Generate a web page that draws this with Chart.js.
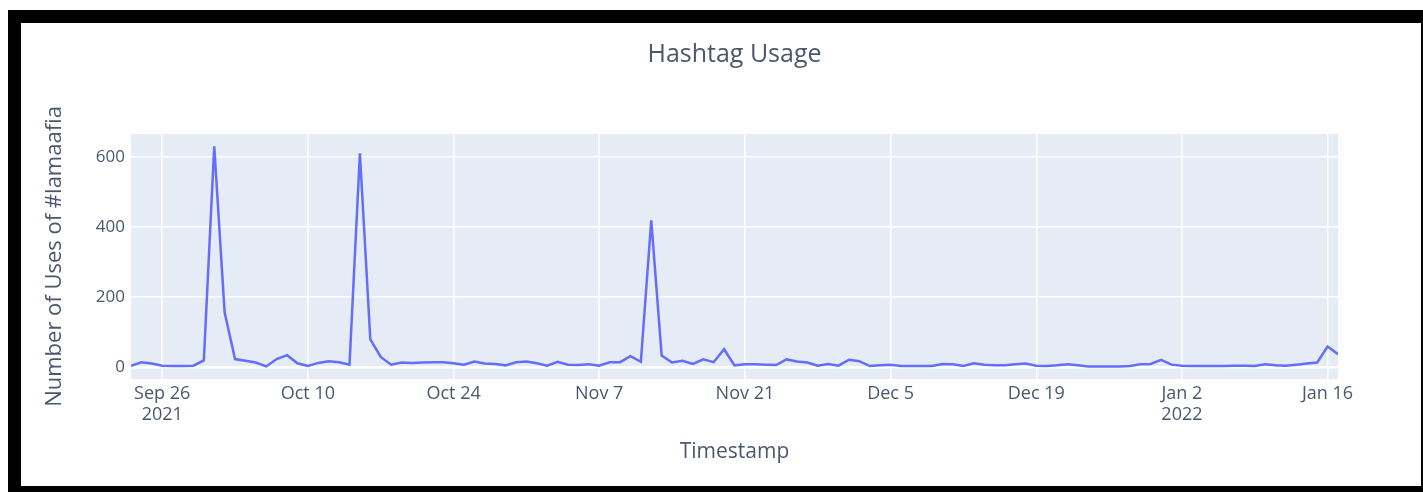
<!DOCTYPE html>
<html>
<head>
<meta charset="utf-8">
<script src="https://cdn.jsdelivr.net/npm/chart.js@4.4.1/dist/chart.umd.min.js"></script>
<style>
  html, body { margin: 0; padding: 0; background: #ffffff; width: 1423px; height: 492px; overflow: hidden; }
  #c { position: absolute; left: 0; top: 0; }
  #frame {
    position: absolute; left: 8px; top: 10px; width: 1415px; height: 482px;
    box-sizing: border-box; border-style: solid; border-color: #000;
    border-width: 13px 2px 6px 13px; pointer-events: none;
  }
</style>
</head>
<body>
<canvas id="c" width="1423" height="492"></canvas>
<div id="frame"></div>
<script>
// ---- data ----
const startDate = '2021-09-23';            // first daily observation
const usageCounts = [
  3, 13, 9, 3, 2, 2, 3, 18, 630, 155,
  22, 17, 12, 1, 22, 33, 10, 2, 11, 16,
  13, 6, 610, 78, 28, 6, 12, 11, 12, 13,
  13, 10, 6, 15, 9, 8, 4, 13, 15, 10,
  3, 14, 6, 5, 7, 3, 13, 13, 30, 14,
  418, 32, 12, 17, 8, 21, 13, 50, 4, 7,
  7, 6, 5, 21, 15, 12, 3, 8, 3, 20,
  16, 2, 4, 6, 2, 2, 2, 2, 8, 7,
  2, 10, 6, 4, 4, 7, 9, 3, 2, 4,
  7, 4, 1, 1, 1, 1, 2, 7, 8, 20,
  6, 3, 2, 2, 2, 2, 3, 3, 2, 7,
  4, 3, 6, 9, 12, 58, 36
];
const xTickDates = ['2021-09-26','2021-10-10','2021-10-24','2021-11-07','2021-11-21','2021-12-05','2021-12-19','2022-01-02','2022-01-16'];
const xTickLabels = [['Sep 26','2021'],'Oct 10','Oct 24','Nov 7','Nov 21','Dec 5','Dec 19',['Jan 2','2022'],'Jan 16'];
const yTickValues = [0, 200, 400, 600];
const yRange = [-35, 665];

// ---- helpers ----
const DAY = 86400000;
const t0 = Date.parse(startDate + 'T00:00:00Z');
const dayIndex = d => Math.round((Date.parse(d + 'T00:00:00Z') - t0) / DAY);
const xTickIdx = xTickDates.map(dayIndex);
const points = usageCounts.map((v, i) => ({ x: i, y: v }));

const textColor = '#4a586e';
const fontFamily = '"Open Sans", "Liberation Sans", sans-serif';

const plotBg = {
  id: 'plotBg',
  beforeDraw(chart) {
    const { ctx, chartArea: a } = chart;
    ctx.save();
    ctx.fillStyle = '#E5ECF6';
    ctx.fillRect(a.left, a.top, a.right - a.left, a.bottom - a.top);
    ctx.restore();
  }
};

new Chart(document.getElementById('c'), {
  type: 'line',
  data: {
    datasets: [{
      data: points,
      borderColor: '#636efa',
      borderWidth: 2.5,
      pointRadius: 0,
      tension: 0,
      fill: false
    }]
  },
  plugins: [plotBg],
  options: {
    responsive: false,
    devicePixelRatio: 1,
    animation: false,
    layout: { padding: { left: 0, right: 85, top: 0, bottom: 0 } },
    plugins: {
      legend: { display: false },
      tooltip: { enabled: false },
      title: {
        display: true,
        fullSize: false,
        text: 'Hashtag Usage',
        color: textColor,
        font: { family: fontFamily, size: 25, weight: 'normal', lineHeight: 1.2 },
        padding: { top: 40, bottom: 64 }
      }
    },
    scales: {
      x: {
        type: 'linear',
        min: 0,
        max: usageCounts.length - 1,
        afterBuildTicks(scale) { scale.ticks = xTickIdx.map(v => ({ value: v })); },
        afterFit(scale) { scale.height = 113; },
        border: { display: false },
        grid: { color: '#ffffff', lineWidth: 1.5, drawTicks: false },
        ticks: {
          autoSkip: false,
          maxRotation: 0,
          minRotation: 0,
          padding: 4,
          color: textColor,
          font: { family: fontFamily, size: 18, lineHeight: 1.17 },
          callback: (v) => { const k = xTickIdx.indexOf(v); return k >= 0 ? xTickLabels[k] : ''; }
        },
        title: {
          display: true,
          text: 'Timestamp',
          color: textColor,
          font: { family: fontFamily, size: 21, lineHeight: 1.2 },
          padding: { top: 0, bottom: 27 }
        }
      },
      y: {
        min: yRange[0],
        max: yRange[1],
        afterBuildTicks(scale) { scale.ticks = yTickValues.map(v => ({ value: v })); },
        afterFit(scale) { scale.width = 131; },
        border: { display: false },
        grid: {
          color: '#ffffff',
          lineWidth: (c) => (c.tick && c.tick.value === 0 ? 2.5 : 1.5),
          drawTicks: false
        },
        ticks: {
          padding: 6,
          color: textColor,
          font: { family: fontFamily, size: 17 },
          callback: (v) => String(v)
        },
        title: {
          display: true,
          text: 'Number of Uses of #lamaafia',
          color: textColor,
          font: { family: fontFamily, size: 22, lineHeight: 1.2 },
          padding: { top: 42, bottom: 0 }
        }
      }
    }
  }
});
</script>
</body>
</html>
